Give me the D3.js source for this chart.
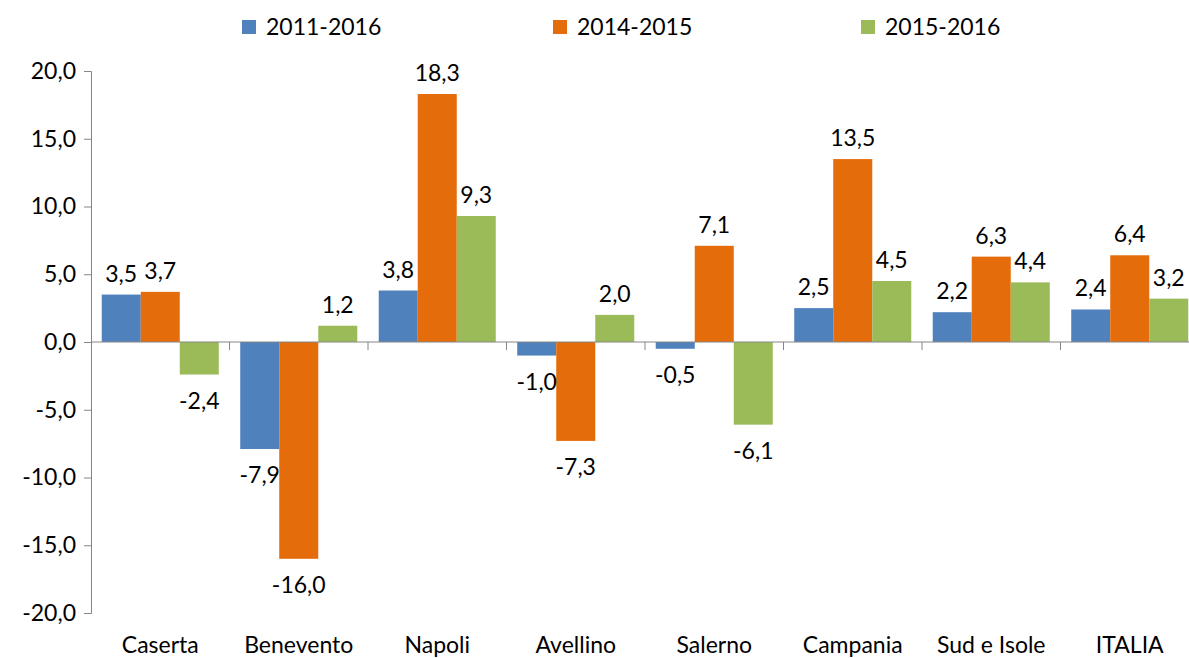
<!DOCTYPE html>
<html>
<head>
<meta charset="utf-8">
<script src="https://cdn.jsdelivr.net/npm/d3@7"></script>
<style>
  body { margin: 0; background: #fff; }
  svg { display: block; font-family: Lato, "Open Sans", sans-serif; }
</style>
</head>
<body>
<div id="grafico"></div>
<script>
// dati
var categorie = ["Caserta", "Benevento", "Napoli", "Avellino", "Salerno", "Campania", "Sud e Isole", "ITALIA"];
var serie = ["2011-2016", "2014-2015", "2015-2016"];
var v_2011_2016 = [3.5, -7.9, 3.8, -1.0, -0.5, 2.5, 2.2, 2.4];
var v_2014_2015 = [3.7, -16.0, 18.3, -7.3, 7.1, 13.5, 6.3, 6.4];
var v_2015_2016 = [-2.4, 1.2, 9.3, 2.0, -6.1, 4.5, 4.4, 3.2];
var yTicks = [-20, -15, -10, -5, 0, 5, 10, 15, 20];
var colori = ["#4f81bd", "#e46c0a", "#9bbb59"];

var valori = [v_2011_2016, v_2014_2015, v_2015_2016];
var data = categorie.map(function (c, i) {
    var d = {cat: c};
    serie.forEach(function (s, j) { d[s] = valori[j][i]; });
    return d;
});

var W = 1189, H = 658, fs = 23;
var svg = d3.select("#grafico").append("svg")
    .attr("width", W).attr("height", H);

var left = 91, bandW = 138.5;
var x0 = d3.scaleBand()
    .domain(categorie)
    .range([left, left + bandW * categorie.length]);
var x1 = d3.scaleBand()
    .domain(serie)
    .range([0, x0.bandwidth()])
    .paddingInner(0)
    .paddingOuter(0.275);
var y = d3.scaleLinear()
    .domain([-20, 20])
    .range([613, 71]);
var z = d3.scaleOrdinal().domain(serie).range(colori);

var fmt = function (v) { return d3.format(".1f")(v).replace(".", ",").replace("−", "-"); };

// barre
var gruppi = svg.append("g")
    .selectAll("g")
    .data(data)
    .enter().append("g")
    .attr("transform", function (d) { return "translate(" + x0(d.cat) + ",0)"; });

gruppi.selectAll("rect")
    .data(function (d) { return serie.map(function (k) { return {key: k, value: d[k]}; }); })
    .enter().append("rect")
    .attr("x", function (d) { return x1(d.key); })
    .attr("y", function (d) { return y(Math.max(0, d.value)); })
    .attr("width", x1.bandwidth())
    .attr("height", function (d) { return Math.abs(y(d.value) - y(0)); })
    .attr("fill", function (d) { return z(d.key); });

// etichette
gruppi.selectAll("text")
    .data(function (d) { return serie.map(function (k) { return {key: k, value: d[k]}; }); })
    .enter().append("text")
    .attr("x", function (d) { return x1(d.key) + x1.bandwidth() / 2; })
    .attr("y", function (d) { return d.value >= 0 ? y(d.value) - 13 : y(d.value) + 34; })
    .attr("text-anchor", "middle")
    .attr("font-size", fs)
    .attr("fill", "#000")
    .text(function (d) { return fmt(d.value); });

// asse y
var ay = svg.append("g")
    .attr("transform", "translate(" + left + ",0)")
    .call(d3.axisLeft(y).tickValues(yTicks).tickSize(7).tickPadding(8).tickFormat(fmt));
ay.select(".domain").attr("stroke", "#868686");
ay.selectAll(".tick line").attr("stroke", "#868686");
ay.selectAll(".tick text").attr("font-size", fs).attr("fill", "#000").attr("font-family", "Lato, sans-serif");

// linea dello zero e tacche
svg.append("line")
    .attr("x1", left).attr("x2", W)
    .attr("y1", y(0)).attr("y2", y(0))
    .attr("stroke", "#868686");
svg.append("g").selectAll("line")
    .data(categorie.slice(1))
    .enter().append("line")
    .attr("x1", function (d) { return x0(d); })
    .attr("x2", function (d) { return x0(d); })
    .attr("y1", y(0)).attr("y2", y(0) + 8)
    .attr("stroke", "#868686");

// etichette categorie
svg.append("g").selectAll("text")
    .data(categorie)
    .enter().append("text")
    .attr("x", function (d) { return x0(d) + x0.bandwidth() / 2; })
    .attr("y", 653)
    .attr("text-anchor", "middle")
    .attr("font-size", fs)
    .attr("fill", "#000")
    .text(function (d) { return d; });

// legenda
var legX = [242, 553, 861];
var legend = svg.append("g").selectAll("g")
    .data(serie)
    .enter().append("g")
    .attr("transform", function (d, i) { return "translate(" + legX[i] + ",20)"; });
legend.append("rect")
    .attr("width", 14).attr("height", 14)
    .attr("fill", z);
legend.append("text")
    .attr("x", 24).attr("y", 15)
    .attr("font-size", fs)
    .attr("fill", "#000")
    .text(function (d) { return d; });
</script>
</body>
</html>
